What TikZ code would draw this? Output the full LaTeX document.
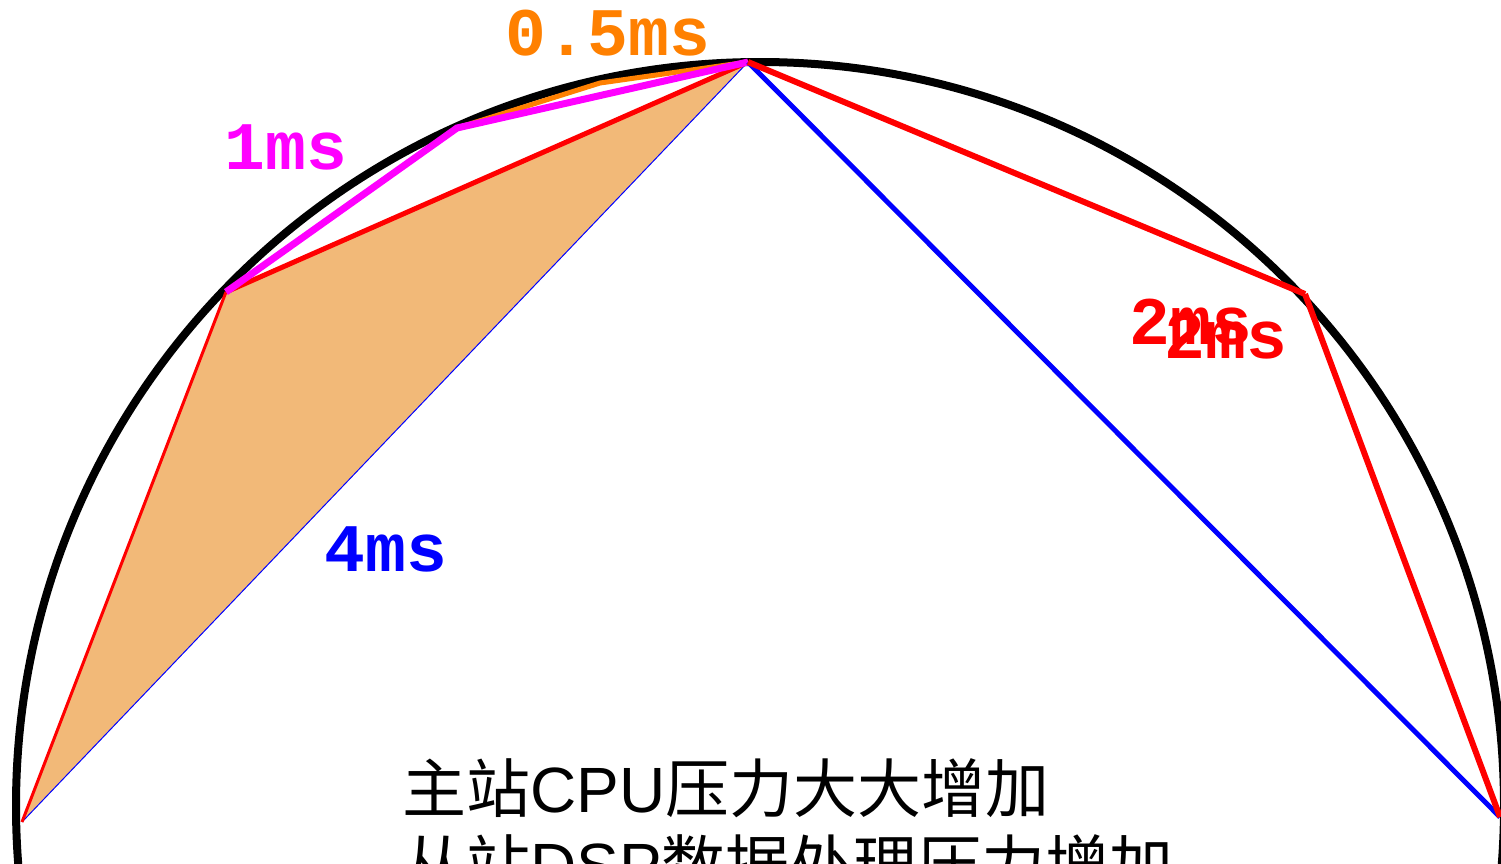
\documentclass[tikz,border=0pt]{standalone}
\usepackage{fontspec}
\newfontfamily\cjk{Noto Sans CJK SC}
\newfontfamily\lat{Liberation Sans}
\newfontfamily\mono{Liberation Mono}
\definecolor{ora}{RGB}{255,128,0}
\definecolor{tanfill}{RGB}{242,185,120}
\definecolor{mag}{RGB}{255,0,255}
\begin{document}
\begin{tikzpicture}[x=1pt,y=-1pt,
  lab/.style={font=\mono\bfseries\fontsize{68}{68}\selectfont, inner sep=0pt, anchor=center},
  cn/.style={font=\fontsize{64}{64}\selectfont, inner sep=0pt, anchor=base west}]
\useasboundingbox (0,0) rectangle (1501,863);
\clip (0,0) rectangle (1501,863);
\coordinate (O) at (760,806);
\coordinate (L) at (22,822);
\coordinate (A) at (226,292);
\coordinate (C) at (457,128);
\coordinate (Q) at (600,83);
\coordinate (T) at (748,62);
\coordinate (B) at (1305,294);
\coordinate (R) at (1500,817);
\draw[line width=8pt] (O) circle[radius=744];
\fill[tanfill] (L) -- (A) -- (T) -- cycle;
\draw[blue, line width=1pt] (T) -- (L);
\draw[red, line width=3pt] (L) -- (A);
\draw[red, line width=5pt] (A) -- (T);
\draw[ora, line width=5pt] (C) -- (Q) -- (T);
\draw[mag, line width=7pt] (A) -- (C) -- (T);
\draw[blue, line width=5pt] (T) -- (R);
\draw[red, line width=6pt] (T) -- (B);
\draw[red, line width=6pt] (B) -- (R);
\node[lab, text=ora] (l05) at (608,33) {0.5ms};
\node[lab, text=mag] (l1) at (286,147) {1ms};
\node[lab, text=blue] (l4) at (386,549) {4ms};
\node[lab, text=red] (l2a) at (1191,322) {2ms};
\node[lab, text=red] (l2b) at (1226,336) {2ms};
\node[cn] (t1) at (402,812) {{\cjk 主站}{\lat CPU}{\cjk 压力大大增加}};
\node[cn] (t2) at (402,888) {{\cjk 从站}{\lat DSP}{\cjk 数据处理压力增加}};
\end{tikzpicture}
\end{document}
